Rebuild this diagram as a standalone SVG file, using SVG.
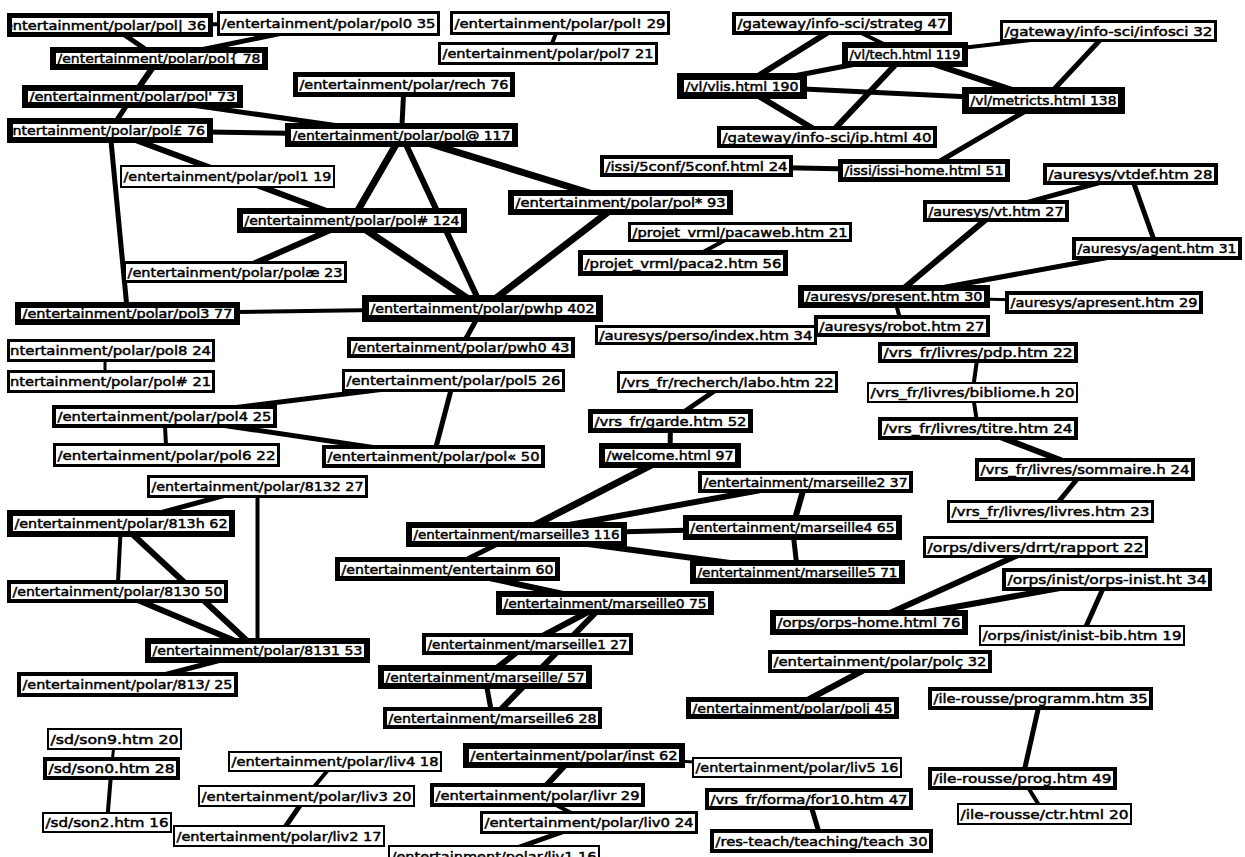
<svg xmlns="http://www.w3.org/2000/svg" width="1245" height="857" viewBox="0 0 1245 857">
<defs>
<clipPath id="clipL"><rect x="10" y="0" width="1235" height="857"/></clipPath>
</defs>
<style>
.edges line{stroke:#000;stroke-linecap:butt}
.w3{stroke-width:3}.w4{stroke-width:4}.w5{stroke-width:5}.w6{stroke-width:6}.w7{stroke-width:7}
.node rect{fill:#fff;stroke:#000;shape-rendering:crispEdges}
.node text{font-family:"DejaVu Sans","Liberation Sans",sans-serif;font-size:12px;fill:#000;stroke:#000;stroke-width:0.45px}
.b2{stroke-width:2}.b3{stroke-width:3}.b4{stroke-width:4}.b5{stroke-width:5}.b6{stroke-width:6}.b7{stroke-width:7}
</style>
<rect x="0" y="0" width="1245" height="857" fill="#fff"/>
<g id="connectors" class="edges">
<line x1="110" y1="25" x2="328.5" y2="23.5" class="w4"/>
<line x1="110" y1="25" x2="159" y2="58.5" class="w5"/>
<line x1="328.5" y1="23.5" x2="159" y2="58.5" class="w5"/>
<line x1="560" y1="23" x2="548" y2="53.5" class="w4"/>
<line x1="159" y1="58.5" x2="132.5" y2="96.5" class="w6"/>
<line x1="132.5" y1="96.5" x2="110" y2="130.5" class="w5"/>
<line x1="132.5" y1="96.5" x2="401.5" y2="135" class="w5"/>
<line x1="110" y1="130.5" x2="401.5" y2="135" class="w5"/>
<line x1="110" y1="130.5" x2="352" y2="220.5" class="w6"/>
<line x1="110" y1="130.5" x2="127.5" y2="313.5" class="w5"/>
<line x1="404" y1="84.5" x2="401.5" y2="135" class="w5"/>
<line x1="401.5" y1="135" x2="352" y2="220.5" class="w7"/>
<line x1="401.5" y1="135" x2="482.5" y2="308.5" class="w6"/>
<line x1="401.5" y1="135" x2="620.5" y2="202.5" class="w7"/>
<line x1="352" y1="220.5" x2="482.5" y2="308.5" class="w7"/>
<line x1="352" y1="220.5" x2="235" y2="272" class="w6"/>
<line x1="620.5" y1="202.5" x2="482.5" y2="308.5" class="w7"/>
<line x1="127.5" y1="313.5" x2="482.5" y2="308.5" class="w4"/>
<line x1="482.5" y1="308.5" x2="461" y2="347.5" class="w5"/>
<line x1="105" y1="350" x2="105" y2="382" class="w3"/>
<line x1="453.5" y1="380.5" x2="164.5" y2="416.5" class="w5"/>
<line x1="453.5" y1="380.5" x2="433.5" y2="456.5" class="w5"/>
<line x1="164.5" y1="416.5" x2="166.5" y2="455" class="w4"/>
<line x1="164.5" y1="416.5" x2="433.5" y2="456.5" class="w5"/>
<line x1="257.5" y1="486.5" x2="121" y2="523.5" class="w5"/>
<line x1="257.5" y1="486.5" x2="257.5" y2="650.5" class="w4"/>
<line x1="121" y1="523.5" x2="117.5" y2="591.5" class="w4"/>
<line x1="121" y1="523.5" x2="257.5" y2="650.5" class="w6"/>
<line x1="117.5" y1="591.5" x2="257.5" y2="650.5" class="w6"/>
<line x1="257.5" y1="650.5" x2="127.5" y2="684.5" class="w5"/>
<line x1="114.5" y1="739" x2="111.5" y2="768.5" class="w3"/>
<line x1="111.5" y1="768.5" x2="107" y2="822.5" class="w4"/>
<line x1="335" y1="761.5" x2="306.5" y2="796" class="w4"/>
<line x1="306.5" y1="796" x2="279" y2="836" class="w5"/>
<line x1="574" y1="755.5" x2="537.5" y2="795" class="w6"/>
<line x1="574" y1="755.5" x2="797" y2="767.5" class="w3"/>
<line x1="537.5" y1="795" x2="589" y2="822.5" class="w4"/>
<line x1="589" y1="822.5" x2="494" y2="856" class="w5"/>
<line x1="809" y1="799" x2="821.5" y2="841" class="w5"/>
<line x1="1040.5" y1="698.5" x2="1022.5" y2="778.5" class="w5"/>
<line x1="1022.5" y1="778.5" x2="1044.5" y2="814" class="w4"/>
<line x1="727.5" y1="382" x2="670.5" y2="421" class="w5"/>
<line x1="670.5" y1="421" x2="670" y2="455.5" class="w5"/>
<line x1="670" y1="455.5" x2="516.5" y2="534.5" class="w7"/>
<line x1="805.5" y1="482" x2="516.5" y2="534.5" class="w6"/>
<line x1="805.5" y1="482" x2="792.5" y2="527.5" class="w6"/>
<line x1="516.5" y1="534.5" x2="792.5" y2="527.5" class="w5"/>
<line x1="516.5" y1="534.5" x2="797.5" y2="572" class="w6"/>
<line x1="792.5" y1="527.5" x2="797.5" y2="572" class="w5"/>
<line x1="516.5" y1="534.5" x2="447.5" y2="569" class="w5"/>
<line x1="447.5" y1="569" x2="605" y2="603" class="w6"/>
<line x1="605" y1="603" x2="527.5" y2="644" class="w6"/>
<line x1="605" y1="603" x2="492.5" y2="718" class="w6"/>
<line x1="527.5" y1="644" x2="485" y2="677" class="w6"/>
<line x1="485" y1="677" x2="492.5" y2="718" class="w5"/>
<line x1="880" y1="661.5" x2="792.5" y2="708" class="w6"/>
<line x1="1035.5" y1="547" x2="869" y2="622.5" class="w6"/>
<line x1="1107" y1="579.5" x2="869" y2="622.5" class="w6"/>
<line x1="1107" y1="579.5" x2="1082" y2="635.5" class="w5"/>
<line x1="978" y1="352.5" x2="972.5" y2="392.5" class="w4"/>
<line x1="972.5" y1="392.5" x2="978" y2="428.5" class="w4"/>
<line x1="978" y1="428.5" x2="1085" y2="469.5" class="w6"/>
<line x1="1085" y1="469.5" x2="1050.5" y2="511.5" class="w5"/>
<line x1="894" y1="296.5" x2="996" y2="211" class="w6"/>
<line x1="894" y1="296.5" x2="1157" y2="248.5" class="w5"/>
<line x1="1130.5" y1="174" x2="996" y2="211" class="w5"/>
<line x1="1130.5" y1="174" x2="1157" y2="248.5" class="w5"/>
<line x1="894" y1="296.5" x2="902" y2="326" class="w4"/>
<line x1="894" y1="296.5" x2="1104" y2="302.5" class="w3"/>
<line x1="842" y1="23.5" x2="742" y2="86" class="w6"/>
<line x1="842" y1="23.5" x2="905" y2="54.5" class="w4"/>
<line x1="905" y1="54.5" x2="742" y2="86" class="w5"/>
<line x1="905" y1="54.5" x2="1108.5" y2="31" class="w4"/>
<line x1="905" y1="54.5" x2="1043.5" y2="100.5" class="w6"/>
<line x1="905" y1="54.5" x2="827" y2="137" class="w6"/>
<line x1="742" y1="86" x2="1043.5" y2="100.5" class="w5"/>
<line x1="742" y1="86" x2="827" y2="137" class="w6"/>
<line x1="1108.5" y1="31" x2="1043.5" y2="100.5" class="w5"/>
<line x1="1043.5" y1="100.5" x2="924" y2="170.5" class="w5"/>
<line x1="696.5" y1="166" x2="924" y2="170.5" class="w5"/>
<line x1="740" y1="232" x2="683" y2="263" class="w4"/>
</g>
<g id="n-pol-pipe-36" class="node"><rect x="9.5" y="15.5" width="201" height="19" class="b5"/><text x="-1" y="29.5" textLength="207" lengthAdjust="spacingAndGlyphs" clip-path="url(#clipL)">/entertainment/polar/pol| 36</text></g>
<g id="n-pol0-35" class="node"><rect x="218.5" y="12.5" width="220" height="22" class="b3"/><text x="221.5" y="28" textLength="214" lengthAdjust="spacingAndGlyphs">/entertainment/polar/pol0 35</text></g>
<g id="n-pol-excl-29" class="node"><rect x="451.5" y="12.5" width="217" height="21" class="b3"/><text x="454.5" y="27.5" textLength="211" lengthAdjust="spacingAndGlyphs">/entertainment/polar/pol! 29</text></g>
<g id="n-pol7-21" class="node"><rect x="439.5" y="43.5" width="217" height="20" class="b3"/><text x="442.5" y="58" textLength="211" lengthAdjust="spacingAndGlyphs">/entertainment/polar/pol7 21</text></g>
<g id="n-pol-brace-78" class="node"><rect x="53" y="50" width="212" height="17" class="b6"/><text x="57.5" y="63" textLength="203" lengthAdjust="spacingAndGlyphs">/entertainment/polar/pol{ 78</text></g>
<g id="n-pol-apos-73" class="node"><rect x="25" y="88" width="215" height="17" class="b6"/><text x="29.5" y="101" textLength="206" lengthAdjust="spacingAndGlyphs">/entertainment/polar/pol' 73</text></g>
<g id="n-pol-pound-76" class="node"><rect x="10" y="121" width="200" height="19" class="b6"/><text x="-1" y="135" textLength="206" lengthAdjust="spacingAndGlyphs" clip-path="url(#clipL)">/entertainment/polar/pol£ 76</text></g>
<g id="n-rech-76" class="node"><rect x="295.5" y="74.5" width="217" height="20" class="b5"/><text x="299.5" y="89" textLength="209" lengthAdjust="spacingAndGlyphs">/entertainment/polar/rech 76</text></g>
<g id="n-pol-at-117" class="node"><rect x="288" y="126" width="227" height="18" class="b6"/><text x="292.5" y="139.5" textLength="218" lengthAdjust="spacingAndGlyphs">/entertainment/polar/pol@ 117</text></g>
<g id="n-pol1-19" class="node"><rect x="121" y="166" width="213" height="21" class="b2"/><text x="123.5" y="181" textLength="208" lengthAdjust="spacingAndGlyphs">/entertainment/polar/pol1 19</text></g>
<g id="n-pol-hash-124" class="node"><rect x="240" y="211" width="224" height="19" class="b6"/><text x="244.5" y="225" textLength="215" lengthAdjust="spacingAndGlyphs">/entertainment/polar/pol# 124</text></g>
<g id="n-pol-star-93" class="node"><rect x="511" y="193" width="219" height="19" class="b6"/><text x="515.5" y="207" textLength="210" lengthAdjust="spacingAndGlyphs">/entertainment/polar/pol* 93</text></g>
<g id="n-pol-ae-23" class="node"><rect x="124.5" y="262.5" width="221" height="19" class="b3"/><text x="127.5" y="276.5" textLength="215" lengthAdjust="spacingAndGlyphs">/entertainment/polar/polæ 23</text></g>
<g id="n-pol3-77" class="node"><rect x="18" y="305" width="219" height="17" class="b6"/><text x="22.5" y="318" textLength="210" lengthAdjust="spacingAndGlyphs">/entertainment/polar/pol3 77</text></g>
<g id="n-pwhp-402" class="node"><rect x="365.5" y="298.5" width="234" height="20" class="b7"/><text x="370.5" y="313" textLength="224" lengthAdjust="spacingAndGlyphs">/entertainment/polar/pwhp 402</text></g>
<g id="n-perso-index-34" class="node"><rect x="596.5" y="326.5" width="219" height="17" class="b3"/><text x="599.5" y="339.5" textLength="213" lengthAdjust="spacingAndGlyphs">/auresys/perso/index.htm 34</text></g>
<g id="n-pwh0-43" class="node"><rect x="349" y="339" width="224" height="17" class="b4"/><text x="352.5" y="352" textLength="217" lengthAdjust="spacingAndGlyphs">/entertainment/polar/pwh0 43</text></g>
<g id="n-pol8-24" class="node"><rect x="8.5" y="340.5" width="205" height="20" class="b3"/><text x="-4" y="355" textLength="215" lengthAdjust="spacingAndGlyphs" clip-path="url(#clipL)">/entertainment/polar/pol8 24</text></g>
<g id="n-pol-hash-21" class="node"><rect x="8.5" y="371.5" width="205" height="20" class="b3"/><text x="-4" y="386" textLength="215" lengthAdjust="spacingAndGlyphs" clip-path="url(#clipL)">/entertainment/polar/pol# 21</text></g>
<g id="n-pol5-26" class="node"><rect x="343.5" y="370.5" width="220" height="20" class="b3"/><text x="346.5" y="385" textLength="214" lengthAdjust="spacingAndGlyphs">/entertainment/polar/pol5 26</text></g>
<g id="n-pol4-25" class="node"><rect x="54" y="407" width="221" height="19" class="b4"/><text x="57.5" y="421" textLength="214" lengthAdjust="spacingAndGlyphs">/entertainment/polar/pol4 25</text></g>
<g id="n-pol6-22" class="node"><rect x="54.5" y="444.5" width="224" height="21" class="b3"/><text x="57.5" y="459.5" textLength="218" lengthAdjust="spacingAndGlyphs">/entertainment/polar/pol6 22</text></g>
<g id="n-pol-laquo-50" class="node"><rect x="324" y="447" width="219" height="19" class="b4"/><text x="327.5" y="461" textLength="212" lengthAdjust="spacingAndGlyphs">/entertainment/polar/pol« 50</text></g>
<g id="n-8132-27" class="node"><rect x="148.5" y="476.5" width="218" height="20" class="b3"/><text x="151.5" y="491" textLength="212" lengthAdjust="spacingAndGlyphs">/entertainment/polar/8132 27</text></g>
<g id="n-813h-62" class="node"><rect x="10" y="513" width="222" height="21" class="b6"/><text x="14.5" y="528" textLength="213" lengthAdjust="spacingAndGlyphs">/entertainment/polar/813h 62</text></g>
<g id="n-8130-50" class="node"><rect x="9" y="582" width="217" height="19" class="b4"/><text x="12.5" y="596" textLength="210" lengthAdjust="spacingAndGlyphs">/entertainment/polar/8130 50</text></g>
<g id="n-8131-53" class="node"><rect x="148" y="641" width="219" height="19" class="b6"/><text x="152.5" y="655" textLength="210" lengthAdjust="spacingAndGlyphs">/entertainment/polar/8131 53</text></g>
<g id="n-813slash-25" class="node"><rect x="19" y="674" width="217" height="21" class="b4"/><text x="22.5" y="689" textLength="210" lengthAdjust="spacingAndGlyphs">/entertainment/polar/813/ 25</text></g>
<g id="n-son9-20" class="node"><rect x="48" y="729" width="133" height="20" class="b2"/><text x="50.5" y="743.5" textLength="128" lengthAdjust="spacingAndGlyphs">/sd/son9.htm 20</text></g>
<g id="n-son0-28" class="node"><rect x="45" y="759" width="133" height="19" class="b4"/><text x="48.5" y="773" textLength="126" lengthAdjust="spacingAndGlyphs">/sd/son0.htm 28</text></g>
<g id="n-son2-16" class="node"><rect x="43" y="813" width="128" height="19" class="b2"/><text x="45.5" y="827" textLength="123" lengthAdjust="spacingAndGlyphs">/sd/son2.htm 16</text></g>
<g id="n-liv4-18" class="node"><rect x="229" y="752" width="212" height="19" class="b2"/><text x="231.5" y="766" textLength="207" lengthAdjust="spacingAndGlyphs">/entertainment/polar/liv4 18</text></g>
<g id="n-liv3-20" class="node"><rect x="199" y="786" width="215" height="20" class="b2"/><text x="201.5" y="800.5" textLength="210" lengthAdjust="spacingAndGlyphs">/entertainment/polar/liv3 20</text></g>
<g id="n-liv2-17" class="node"><rect x="174" y="826" width="210" height="20" class="b2"/><text x="176.5" y="840.5" textLength="205" lengthAdjust="spacingAndGlyphs">/entertainment/polar/liv2 17</text></g>
<g id="n-liv1-16" class="node"><rect x="389" y="846" width="210" height="20" class="b2"/><text x="391.5" y="860.5" textLength="205" lengthAdjust="spacingAndGlyphs">/entertainment/polar/liv1 16</text></g>
<g id="n-inst-62" class="node"><rect x="466" y="746" width="216" height="19" class="b6"/><text x="470.5" y="760" textLength="207" lengthAdjust="spacingAndGlyphs">/entertainment/polar/inst 62</text></g>
<g id="n-liv5-16" class="node"><rect x="693" y="758" width="208" height="19" class="b2"/><text x="695.5" y="772" textLength="203" lengthAdjust="spacingAndGlyphs">/entertainment/polar/liv5 16</text></g>
<g id="n-livr-29" class="node"><rect x="432" y="785" width="211" height="20" class="b4"/><text x="435.5" y="799.5" textLength="204" lengthAdjust="spacingAndGlyphs">/entertainment/polar/livr 29</text></g>
<g id="n-liv0-24" class="node"><rect x="481.5" y="812.5" width="215" height="20" class="b3"/><text x="484.5" y="827" textLength="209" lengthAdjust="spacingAndGlyphs">/entertainment/polar/liv0 24</text></g>
<g id="n-for10-47" class="node"><rect x="707" y="790" width="204" height="18" class="b4"/><text x="710.5" y="803.5" textLength="197" lengthAdjust="spacingAndGlyphs">/vrs_fr/forma/for10.htm 47</text></g>
<g id="n-teach-30" class="node"><rect x="712" y="831" width="219" height="20" class="b4"/><text x="715.5" y="845.5" textLength="212" lengthAdjust="spacingAndGlyphs">/res-teach/teaching/teach 30</text></g>
<g id="n-programm-35" class="node"><rect x="930" y="689" width="221" height="19" class="b4"/><text x="933.5" y="703" textLength="214" lengthAdjust="spacingAndGlyphs">/ile-rousse/programm.htm 35</text></g>
<g id="n-prog-49" class="node"><rect x="930" y="769" width="185" height="19" class="b4"/><text x="933.5" y="783" textLength="178" lengthAdjust="spacingAndGlyphs">/ile-rousse/prog.htm 49</text></g>
<g id="n-ctr-20" class="node"><rect x="958" y="804" width="173" height="20" class="b2"/><text x="960.5" y="818.5" textLength="168" lengthAdjust="spacingAndGlyphs">/ile-rousse/ctr.html 20</text></g>
<g id="n-orps-inist-34" class="node"><rect x="1004" y="570" width="206" height="19" class="b4"/><text x="1007.5" y="584" textLength="199" lengthAdjust="spacingAndGlyphs">/orps/inist/orps-inist.ht 34</text></g>
<g id="n-orps-home-76" class="node"><rect x="773" y="613" width="192" height="19" class="b6"/><text x="777.5" y="627" textLength="183" lengthAdjust="spacingAndGlyphs">/orps/orps-home.html 76</text></g>
<g id="n-inist-bib-19" class="node"><rect x="980" y="626" width="204" height="19" class="b2"/><text x="982.5" y="640" textLength="199" lengthAdjust="spacingAndGlyphs">/orps/inist/inist-bib.htm 19</text></g>
<g id="n-rapport-22" class="node"><rect x="924.5" y="537.5" width="222" height="19" class="b3"/><text x="927.5" y="551.5" textLength="216" lengthAdjust="spacingAndGlyphs">/orps/divers/drrt/rapport 22</text></g>
<g id="n-pol-cced-32" class="node"><rect x="770" y="652" width="220" height="19" class="b4"/><text x="773.5" y="666" textLength="213" lengthAdjust="spacingAndGlyphs">/entertainment/polar/polç 32</text></g>
<g id="n-polj-45" class="node"><rect x="688.5" y="699.5" width="208" height="17" class="b5"/><text x="692.5" y="712.5" textLength="200" lengthAdjust="spacingAndGlyphs">/entertainment/polar/polj 45</text></g>
<g id="n-marseille2-37" class="node"><rect x="700" y="473" width="211" height="18" class="b4"/><text x="703.5" y="486.5" textLength="204" lengthAdjust="spacingAndGlyphs">/entertainment/marseille2 37</text></g>
<g id="n-marseille4-65" class="node"><rect x="686" y="518" width="213" height="19" class="b6"/><text x="690.5" y="532" textLength="204" lengthAdjust="spacingAndGlyphs">/entertainment/marseille4 65</text></g>
<g id="n-marseille3-116" class="node"><rect x="409" y="525" width="215" height="19" class="b6"/><text x="413.5" y="539" textLength="206" lengthAdjust="spacingAndGlyphs">/entertainment/marseille3 116</text></g>
<g id="n-marseille5-71" class="node"><rect x="693" y="563" width="209" height="18" class="b6"/><text x="697.5" y="576.5" textLength="200" lengthAdjust="spacingAndGlyphs">/entertainment/marseille5 71</text></g>
<g id="n-entertainm-60" class="node"><rect x="337.5" y="559.5" width="220" height="19" class="b5"/><text x="341.5" y="573.5" textLength="212" lengthAdjust="spacingAndGlyphs">/entertainment/entertainm 60</text></g>
<g id="n-marseille0-75" class="node"><rect x="499" y="594" width="212" height="18" class="b6"/><text x="503.5" y="607.5" textLength="203" lengthAdjust="spacingAndGlyphs">/entertainment/marseille0 75</text></g>
<g id="n-marseille1-27" class="node"><rect x="424" y="635" width="207" height="18" class="b4"/><text x="427.5" y="648.5" textLength="200" lengthAdjust="spacingAndGlyphs">/entertainment/marseille1 27</text></g>
<g id="n-marseille-slash-57" class="node"><rect x="381" y="668" width="208" height="18" class="b6"/><text x="385.5" y="681.5" textLength="199" lengthAdjust="spacingAndGlyphs">/entertainment/marseille/ 57</text></g>
<g id="n-marseille6-28" class="node"><rect x="385" y="709" width="215" height="18" class="b4"/><text x="388.5" y="722.5" textLength="208" lengthAdjust="spacingAndGlyphs">/entertainment/marseille6 28</text></g>
<g id="n-welcome-97" class="node"><rect x="602" y="446" width="136" height="19" class="b6"/><text x="606.5" y="460" textLength="127" lengthAdjust="spacingAndGlyphs">/welcome.html 97</text></g>
<g id="n-garde-52" class="node"><rect x="590.5" y="411.5" width="160" height="19" class="b5"/><text x="594.5" y="425.5" textLength="152" lengthAdjust="spacingAndGlyphs">/vrs_fr/garde.htm 52</text></g>
<g id="n-labo-22" class="node"><rect x="618.5" y="372.5" width="218" height="19" class="b3"/><text x="621.5" y="386.5" textLength="212" lengthAdjust="spacingAndGlyphs">/vrs_fr/recherch/labo.htm 22</text></g>
<g id="n-pdp-22" class="node"><rect x="880" y="344" width="196" height="17" class="b4"/><text x="883.5" y="357" textLength="189" lengthAdjust="spacingAndGlyphs">/vrs_fr/livres/pdp.htm 22</text></g>
<g id="n-bibliome-20" class="node"><rect x="868" y="383" width="209" height="19" class="b2"/><text x="870.5" y="397" textLength="204" lengthAdjust="spacingAndGlyphs">/vrs_fr/livres/bibliome.h 20</text></g>
<g id="n-titre-24" class="node"><rect x="880" y="419" width="196" height="19" class="b4"/><text x="883.5" y="433" textLength="189" lengthAdjust="spacingAndGlyphs">/vrs_fr/livres/titre.htm 24</text></g>
<g id="n-sommaire-24" class="node"><rect x="977" y="460" width="216" height="19" class="b4"/><text x="980.5" y="474" textLength="209" lengthAdjust="spacingAndGlyphs">/vrs_fr/livres/sommaire.h 24</text></g>
<g id="n-livres-23" class="node"><rect x="948.5" y="501.5" width="204" height="20" class="b3"/><text x="951.5" y="516" textLength="198" lengthAdjust="spacingAndGlyphs">/vrs_fr/livres/livres.htm 23</text></g>
<g id="n-present-30" class="node"><rect x="801" y="288" width="186" height="17" class="b6"/><text x="805.5" y="301" textLength="177" lengthAdjust="spacingAndGlyphs">/auresys/present.htm 30</text></g>
<g id="n-apresent-29" class="node"><rect x="1007" y="293" width="194" height="19" class="b4"/><text x="1010.5" y="307" textLength="187" lengthAdjust="spacingAndGlyphs">/auresys/apresent.htm 29</text></g>
<g id="n-robot-27" class="node"><rect x="816" y="317" width="172" height="18" class="b4"/><text x="819.5" y="330.5" textLength="165" lengthAdjust="spacingAndGlyphs">/auresys/robot.htm 27</text></g>
<g id="n-vtdef-28" class="node"><rect x="1045" y="165" width="171" height="18" class="b4"/><text x="1048.5" y="178.5" textLength="164" lengthAdjust="spacingAndGlyphs">/auresys/vtdef.htm 28</text></g>
<g id="n-vt-27" class="node"><rect x="925" y="202" width="142" height="18" class="b4"/><text x="928.5" y="215.5" textLength="135" lengthAdjust="spacingAndGlyphs">/auresys/vt.htm 27</text></g>
<g id="n-agent-31" class="node"><rect x="1074" y="239" width="166" height="19" class="b4"/><text x="1077.5" y="253" textLength="159" lengthAdjust="spacingAndGlyphs">/auresys/agent.htm 31</text></g>
<g id="n-strateg-47" class="node"><rect x="734" y="14" width="216" height="19" class="b4"/><text x="737.5" y="28" textLength="209" lengthAdjust="spacingAndGlyphs">/gateway/info-sci/strateg 47</text></g>
<g id="n-vlis-190" class="node"><rect x="680.5" y="76.5" width="123" height="19" class="b7"/><text x="685.5" y="90.5" textLength="113" lengthAdjust="spacingAndGlyphs">/vl/vlis.html 190</text></g>
<g id="n-tech-119" class="node"><rect x="845" y="45" width="120" height="19" class="b6"/><text x="849.5" y="59" textLength="111" lengthAdjust="spacingAndGlyphs">/vl/tech.html 119</text></g>
<g id="n-infosci-32" class="node"><rect x="1001.5" y="21.5" width="214" height="19" class="b3"/><text x="1004.5" y="35.5" textLength="208" lengthAdjust="spacingAndGlyphs">/gateway/info-sci/infosci 32</text></g>
<g id="n-metricts-138" class="node"><rect x="965.5" y="90.5" width="156" height="20" class="b7"/><text x="970.5" y="105" textLength="146" lengthAdjust="spacingAndGlyphs">/vl/metricts.html 138</text></g>
<g id="n-ip-40" class="node"><rect x="719" y="128" width="216" height="18" class="b4"/><text x="722.5" y="141.5" textLength="209" lengthAdjust="spacingAndGlyphs">/gateway/info-sci/ip.html 40</text></g>
<g id="n-issi-home-51" class="node"><rect x="840.5" y="161.5" width="167" height="18" class="b5"/><text x="844.5" y="175" textLength="159" lengthAdjust="spacingAndGlyphs">/issi/issi-home.html 51</text></g>
<g id="n-5conf-24" class="node"><rect x="602" y="157" width="189" height="18" class="b4"/><text x="605.5" y="170.5" textLength="182" lengthAdjust="spacingAndGlyphs">/issi/5conf/5conf.html 24</text></g>
<g id="n-pacaweb-21" class="node"><rect x="629.5" y="223.5" width="221" height="17" class="b3"/><text x="632.5" y="236.5" textLength="215" lengthAdjust="spacingAndGlyphs">/projet_vrml/pacaweb.htm 21</text></g>
<g id="n-paca2-56" class="node"><rect x="580.5" y="252.5" width="205" height="21" class="b5"/><text x="584.5" y="267.5" textLength="197" lengthAdjust="spacingAndGlyphs">/projet_vrml/paca2.htm 56</text></g>
</svg>
